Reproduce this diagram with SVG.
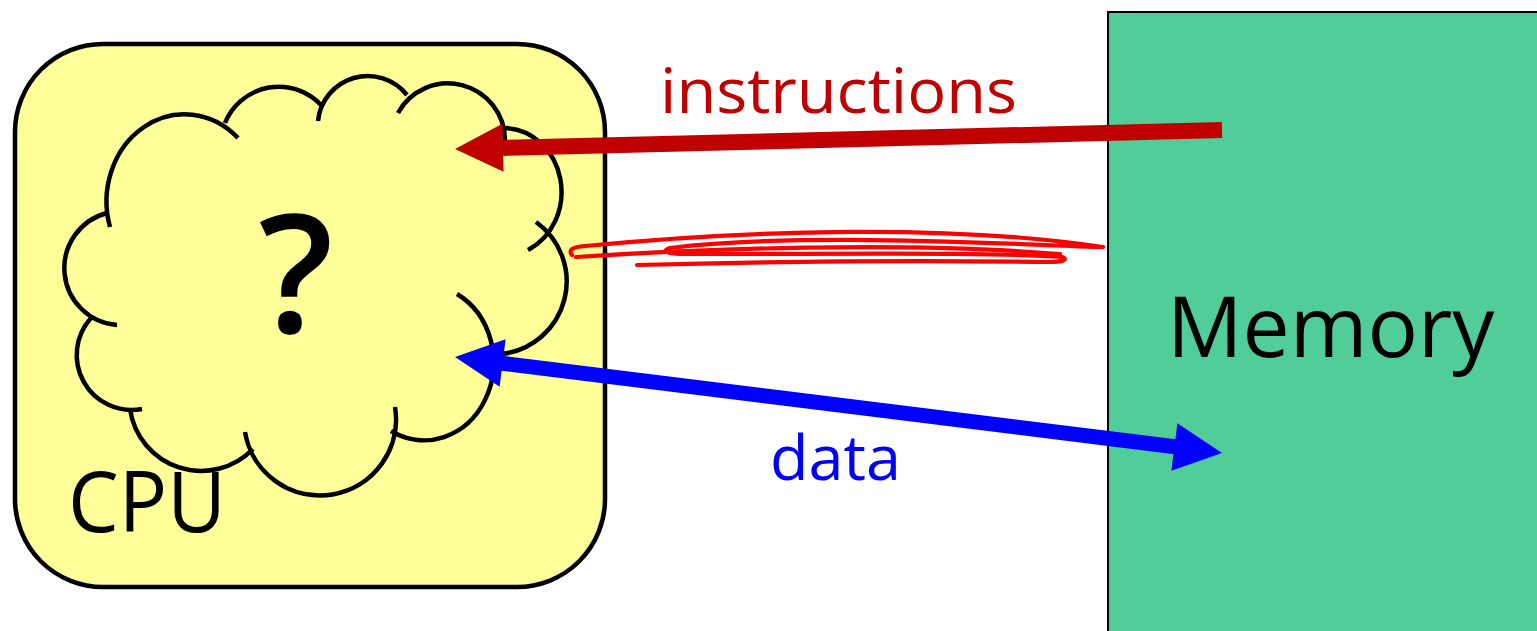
<svg xmlns="http://www.w3.org/2000/svg" width="1537" height="631" viewBox="0 0 1537 631">
<style>
.lbl{font-family:"Open Sans","Noto Sans","Liberation Sans",sans-serif}
.cloud path{fill:none;stroke:#000;stroke-width:4.5;stroke-linecap:butt}
.scrib{fill:none;stroke:#FF0000;stroke-width:4.2;stroke-linecap:round;stroke-linejoin:round}
</style>
<rect width="1537" height="631" fill="#fff"/>
<g id="memory">
<rect x="1108" y="12" width="440" height="640" fill="#50CD98" stroke="#000" stroke-width="2"/>
<text class="lbl" x="1167" y="357" font-size="84" fill="#000">Memory</text>
</g>
<g id="cpu">
<rect x="15" y="44" width="590" height="543" rx="88" ry="88" fill="#FFFF99" stroke="#000" stroke-width="4.5"/>
<text class="lbl" x="68" y="532" font-size="84" fill="#000" textLength="158" lengthAdjust="spacingAndGlyphs">CPU</text>
</g>
<g id="cloud" class="cloud">
<path d="M110,227 A78,87 0 0 1 238,138"/>
<path d="M225,123 A58,58 0 0 1 322,106"/>
<path d="M318,121 A50,50 0 0 1 407,95"/>
<path d="M398,113 A57,57 0 0 1 505,140"/>
<path d="M505,128 A58,64 0 0 1 528,250"/>
<path d="M536,222 A73,73 0 0 1 502,354"/>
<path d="M457,294 A68,76 0 0 1 391,431"/>
<path d="M395,407 A76,76 0 0 1 245,432"/>
<path d="M253,449 A72,72 0 0 1 130,409"/>
<path d="M142,409 A55,55 0 0 1 91,318"/>
<path d="M117,325 A57,57 0 0 1 107,213"/>
<text class="lbl" x="296" y="333" font-size="165" font-weight="600" text-anchor="middle" fill="#000" stroke="none">?</text>
</g>
<g id="connectors">
<g id="instructions-arrow">
<line x1="1222" y1="130" x2="500" y2="148" stroke="#C00000" stroke-width="16"/>
<polygon points="455,149 503.6,171.8 502.4,123.8" fill="#C00000"/>
</g>
<g id="data-arrow">
<line x1="500" y1="363" x2="1177" y2="447" stroke="#0000FF" stroke-width="15"/>
<polygon points="455,357 505.6,339.2 499.6,386.8" fill="#0000FF"/>
<polygon points="1222,453 1177.4,423.2 1171.4,470.8" fill="#0000FF"/>
</g>
<g id="scribble">
<path class="scrib" d="M576,257 C700,249 900,241 1060,254"/>
<path class="scrib" d="M572,255 C568,250 572,247 585,246 C750,230 950,224 1103,247 C1000,244 800,232 670,248 C660,251 668,254 685,254 C850,254 1000,252 1062,257 C1070,260 1060,262 1050,262 C900,260 750,262 637,265"/>
</g>
</g>
<text class="lbl" x="660" y="113" font-size="62" fill="#C00000" textLength="357" lengthAdjust="spacingAndGlyphs">instructions</text>
<text class="lbl" x="770" y="480" font-size="62" fill="#0000FF" textLength="131" lengthAdjust="spacingAndGlyphs">data</text>
</svg>
